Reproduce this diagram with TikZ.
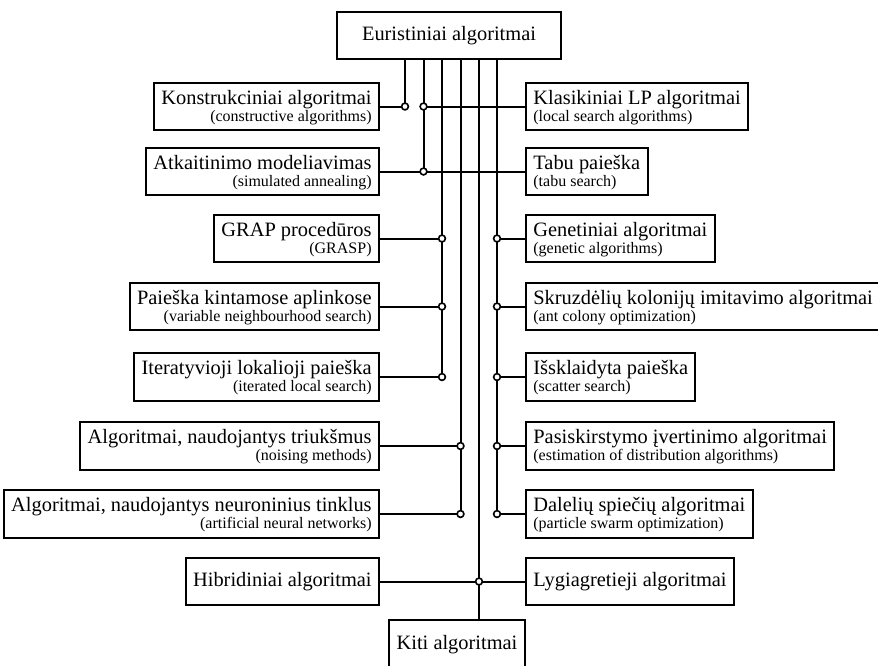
\documentclass[tikz,border=0pt]{standalone}
\usepackage{fontspec}
\setmainfont{Liberation Serif}
\newcommand{\mainf}{\fontsize{10.2}{8.4}\selectfont}
\newcommand{\subf}{\fontsize{8}{8.4}\selectfont}
\newcommand{\lalg}[2]{\vbox{\baselineskip=8.4pt\halign{\hfil##\cr\mainf #1\cr\subf #2\cr}}}
\newcommand{\ralg}[2]{\vbox{\baselineskip=8.4pt\halign{##\hfil\cr\mainf #1\cr\subf #2\cr}}}
\tikzset{
  algbox/.style={draw, line width=1pt, inner xsep=3.7pt, inner ysep=1.5pt, text height=17.7pt, text depth=3pt},
  onebox/.style={draw, line width=1pt, inner xsep=3.7pt, inner ysep=0pt, minimum height=23.5pt, font=\mainf, text height=6.8pt, text depth=1.8pt},
  junc/.style={draw, line width=0.8pt, fill=white},
}

\begin{document}
\begin{tikzpicture}[x=0.5pt, y=-0.5pt, line width=1pt]
\useasboundingbox (0,0) rectangle (878,665);

\node[onebox, minimum width=112pt] (eur) at (449,35.5) {Euristiniai algoritmai};

\node[algbox, anchor=east] (konst) at (380,106.5) {\lalg{Konstrukciniai algoritmai}{(constructive algorithms)}};
\node[algbox, anchor=east] (atkait) at (380,171.5) {\lalg{Atkaitinimo modeliavimas}{(simulated annealing)}};
\node[algbox, anchor=east] (grap) at (380,238.5) {\lalg{GRAP procedūros}{(GRASP)}};
\node[algbox, anchor=east] (kint) at (380,306.5) {\lalg{Paieška kintamose aplinkose}{(variable neighbourhood search)}};
\node[algbox, anchor=east] (iter) at (380,377) {\lalg{Iteratyvioji lokalioji paieška}{(iterated local search)}};
\node[algbox, anchor=east] (triuk) at (380,446) {\lalg{Algoritmai, naudojantys triukšmus}{(noising methods)}};
\node[algbox, anchor=east] (neur) at (380,514) {\lalg{Algoritmai, naudojantys neuroninius tinklus}{(artificial neural networks)}};
\node[onebox, anchor=east] (hibr) at (380,581.5) {Hibridiniai algoritmai};

\node[algbox, anchor=west] (klas) at (525,106.5) {\ralg{Klasikiniai LP algoritmai}{(local search algorithms)}};
\node[algbox, anchor=west] (tabu) at (525,171.5) {\ralg{Tabu paieška}{(tabu search)}};
\node[algbox, anchor=west] (gen) at (525,238.5) {\ralg{Genetiniai algoritmai}{(genetic algorithms)}};
\node[algbox, anchor=west] (skruz) at (525,306.5) {\ralg{Skruzdėlių kolonijų imitavimo algoritmai}{(ant colony optimization)}};
\node[algbox, anchor=west] (issk) at (525,377) {\ralg{Išsklaidyta paieška}{(scatter search)}};
\node[algbox, anchor=west] (pasisk) at (525,446) {\ralg{Pasiskirstymo įvertinimo algoritmai}{(estimation of distribution algorithms)}};
\node[algbox, anchor=west] (dalel) at (525,514) {\ralg{Dalelių spiečių algoritmai}{(particle swarm optimization)}};
\node[onebox, anchor=west] (lygia) at (525,581.5) {Lygiagretieji algoritmai};

\node[onebox, anchor=north, minimum height=24pt] (kiti) at (457,619) {Kiti algoritmai};

\coordinate (ja) at (405,106.5);
\coordinate (jb1) at (423.5,106.5);
\coordinate (jb2) at (423.5,171.5);
\coordinate (jc1) at (442,238.5);
\coordinate (jc2) at (442,306.5);
\coordinate (jc3) at (442,377);
\coordinate (jd1) at (460.5,446);
\coordinate (jd2) at (460.5,514);
\coordinate (je) at (479,581.5);
\coordinate (jf1) at (497,238.5);
\coordinate (jf2) at (497,306.5);
\coordinate (jf3) at (497,377);
\coordinate (jf4) at (497,446);
\coordinate (jf5) at (497,514);

\draw (eur.south -| ja) -- (ja);
\draw (eur.south -| jb1) -- (jb2);
\draw (eur.south -| jc1) -- (jc3);
\draw (eur.south -| jd1) -- (jd2);
\draw (eur.south -| je) -- (kiti.north -| je);
\draw (eur.south -| jf1) -- (jf5);

\draw (konst.east) -- (ja);
\draw (jb1) -- (klas.west);
\draw (atkait.east) -- (jb2) -- (tabu.west);
\draw (grap.east) -- (jc1);
\draw (kint.east) -- (jc2);
\draw (iter.east) -- (jc3);
\draw (triuk.east) -- (jd1);
\draw (neur.east) -- (jd2);
\draw (hibr.east) -- (je) -- (lygia.west);
\draw (jf1) -- (gen.west);
\draw (jf2) -- (skruz.west);
\draw (jf3) -- (issk.west);
\draw (jf4) -- (pasisk.west);
\draw (jf5) -- (dalel.west);

\foreach \j in {ja,jb1,jb2,jc1,jc2,jc3,jd1,jd2,je,jf1,jf2,jf3,jf4,jf5}
  \draw[junc] (\j) circle[radius=1.7pt];
\end{tikzpicture}
\end{document}
